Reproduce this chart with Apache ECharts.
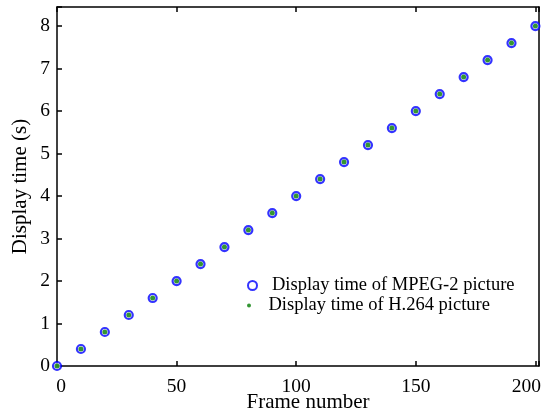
<!DOCTYPE html>
<html>
<head>
<meta charset="utf-8">
<script src="https://cdn.jsdelivr.net/npm/echarts@6/dist/echarts.min.js"></script>
<style>
  html, body { margin: 0; padding: 0; background: #fff; }
  #chart { width: 548px; height: 417px; }
</style>
</head>
<body>
<div id="chart"></div>
<script>
// frame numbers and display times
var frames = [0, 10, 20, 30, 40, 50, 60, 70, 80, 90, 100, 110, 120, 130, 140, 150, 160, 170, 180, 190, 200];
var mpeg2Times = [0, 0.4, 0.8, 1.2, 1.6, 2.0, 2.4, 2.8, 3.2, 3.6, 4.0, 4.4, 4.8, 5.2, 5.6, 6.0, 6.4, 6.8, 7.2, 7.6, 8.0];
var h264Times = [0, 0.4, 0.8, 1.2, 1.6, 2.0, 2.4, 2.8, 3.2, 3.6, 4.0, 4.4, 4.8, 5.2, 5.6, 6.0, 6.4, 6.8, 7.2, 7.6, 8.0];
var xTicks = [0, 50, 100, 150, 200];
var yTicks = [0, 1, 2, 3, 4, 5, 6, 7, 8];

var FONT = 'Liberation Serif';

function pairs(xs, ys) {
    return xs.map(function (x, i) { return [x, ys[i]]; });
}

var chart = echarts.init(document.getElementById('chart'));

var lineStyle = { color: '#000', width: 1.5 };
var tickFont = { fontFamily: FONT, fontSize: 19.5, color: '#000' };

chart.setOption({
    animation: false,
    grid: { left: 57, right: 9, top: 7, bottom: 51, outerBoundsMode: 'none', containLabel: false },
    legend: [{
        data: ['Display time of MPEG-2 picture'],
        left: 242, top: 271,
        itemWidth: 9, itemHeight: 9,
        textStyle: { fontFamily: FONT, fontSize: 18.5, color: '#000', padding: [0, 0, 0, 10] }
    }, {
        data: ['Display time of H.264 picture'],
        left: 242, top: 291,
        itemWidth: 9, itemHeight: 4,
        textStyle: { fontFamily: FONT, fontSize: 18.5, color: '#000', padding: [0, 0, 0, 10] }
    }],
    xAxis: [{
        type: 'value', min: 0, max: 201.5, interval: 50,
        name: 'Frame number', nameLocation: 'middle', nameGap: 26, nameMoveOverlap: false,
        nameTextStyle: { fontFamily: FONT, fontSize: 21, color: '#000', padding: [0, 0, 0, 20] },
        axisLine: { onZero: false, lineStyle: lineStyle },
        axisTick: { inside: true, length: 5, lineStyle: lineStyle },
        axisLabel: {
            fontFamily: FONT, fontSize: 19.5, color: '#000', margin: 11,
            formatter: function (v) {
                if (xTicks.indexOf(v) < 0) return '';
                if (v === 0) return '{first|0}';
                if (v === 200) return '{last|200}';
                return String(v);
            },
            rich: {
                first: Object.assign({ padding: [0, 0, 0, 8] }, tickFont),
                last: Object.assign({ padding: [0, 18, 0, 0] }, tickFont)
            }
        },
        splitLine: { show: false }
    }, {
        type: 'value', min: 0, max: 201.5, interval: 50, position: 'top',
        axisLine: { onZero: false, lineStyle: lineStyle },
        axisTick: { inside: true, length: 5, lineStyle: lineStyle },
        axisLabel: { show: false },
        splitLine: { show: false }
    }],
    yAxis: [{
        type: 'value', min: 0, max: 8.45, interval: 1,
        name: 'Display time (s)', nameLocation: 'middle', nameGap: 26, nameMoveOverlap: false,
        nameTextStyle: { fontFamily: FONT, fontSize: 21, color: '#000' },
        axisLine: { show: true, onZero: false, lineStyle: lineStyle },
        axisTick: { show: true, inside: true, length: 5, lineStyle: lineStyle },
        axisLabel: {
            fontFamily: FONT, fontSize: 19.5, color: '#000', margin: 7,
            formatter: function (v) { return yTicks.indexOf(v) >= 0 ? String(v) : ''; }
        },
        splitLine: { show: false }
    }, {
        type: 'value', min: 0, max: 8.45, position: 'right',
        axisLine: { show: true, onZero: false, lineStyle: lineStyle },
        axisTick: { show: false },
        axisLabel: { show: false },
        splitLine: { show: false }
    }],
    series: [{
        name: 'Display time of MPEG-2 picture',
        type: 'scatter',
        symbol: 'circle',
        symbolSize: 8,
        itemStyle: { color: '#ffffff', borderColor: '#0000ff', borderWidth: 2.2 },
        data: pairs(frames, mpeg2Times),
        z: 2
    }, {
        name: 'Display time of H.264 picture',
        type: 'scatter',
        symbol: 'circle',
        symbolSize: 5,
        itemStyle: { color: '#007a00' },
        data: pairs(frames, h264Times),
        z: 3
    }]
});
</script>
</body>
</html>
